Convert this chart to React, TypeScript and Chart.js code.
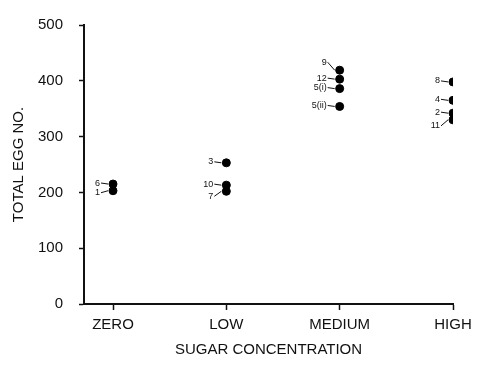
import React, { useEffect, useRef } from "react";
import { Chart, registerables } from "chart.js";

Chart.register(...registerables);

// Sugar levels on the x axis (0..3)
const categories = ["ZERO", "LOW", "MEDIUM", "HIGH"];
const yTicks = [0, 100, 200, 300, 400, 500];

// Total egg number for each individual, grouped by sugar level
const zeroIds = ["6", "1"];
const zeroEggs = [215, 203];
const lowIds = ["3", "10", "7"];
const lowEggs = [253, 213, 202];
const mediumIds = ["9", "12", "5(i)", "5(ii)"];
const mediumEggs = [419, 403, 386, 354];
const highIds = ["8", "4", "2", "11"];
const highEggs = [398, 365, 342, 330];

// Vertical nudge of each identifier label relative to its dot (px)
const labelNudge: Record<string, number> = { "9": -8, "11": 6, "7": 5, "1": 2 };

const FONT = "'Liberation Sans', Arial, sans-serif";

const groups = [
  { x: 0, ids: zeroIds, eggs: zeroEggs },
  { x: 1, ids: lowIds, eggs: lowEggs },
  { x: 2, ids: mediumIds, eggs: mediumEggs },
  { x: 3, ids: highIds, eggs: highEggs },
];

const points = groups.flatMap((g) =>
  g.eggs.map((v, i) => ({ x: g.x, y: v, id: g.ids[i] }))
);

const idLabels = {
  id: "idLabels",
  afterDatasetsDraw(chart: any) {
    const { ctx } = chart;
    const xs = chart.scales.x;
    const ys = chart.scales.y;
    ctx.save();
    ctx.fillStyle = "#111";
    ctx.strokeStyle = "#111";
    ctx.lineWidth = 1;
    ctx.font = `9px ${FONT}`;
    ctx.textAlign = "right";
    ctx.textBaseline = "middle";
    points.forEach((p) => {
      const px = xs.getPixelForValue(p.x);
      const py = ys.getPixelForValue(p.y);
      const dy = labelNudge[p.id] ?? -1;
      const ty = py + dy;
      ctx.fillText(p.id, px - 13, ty);
      ctx.beginPath();
      ctx.moveTo(px - 12, ty);
      ctx.lineTo(px - 5, py);
      ctx.stroke();
    });
    ctx.restore();
  },
};

export default function App() {
  const ref = useRef<HTMLCanvasElement | null>(null);

  useEffect(() => {
    if (!ref.current) return;
    const chart = new Chart(ref.current, {
      type: "scatter",
      data: {
        datasets: [
          {
            data: points.map((p) => ({ x: p.x, y: p.y })),
            backgroundColor: "#000",
            borderColor: "#000",
            pointRadius: 4,
            pointHoverRadius: 4,
          },
        ],
      },
      options: {
        animation: false,
        responsive: false,
        maintainAspectRatio: false,
        layout: { padding: { left: 0, right: 25, top: 16, bottom: 0 } },
        plugins: {
          legend: { display: false },
          tooltip: { enabled: false },
        },
        scales: {
          x: {
            type: "linear",
            min: -0.256,
            max: 3,
            afterBuildTicks: (scale: any) => {
              scale.ticks = categories.map((_, i) => ({ value: i }));
            },
            afterFit: (scale: any) => {
              scale.height = 62;
            },
            ticks: {
              callback: (v: any) => categories[Number(v)] ?? "",
              color: "#111",
              font: { family: FONT, size: 15 },
              padding: 6,
              maxRotation: 0,
              autoSkip: false,
            },
            grid: {
              drawOnChartArea: false,
              drawTicks: true,
              tickLength: 6,
              tickColor: "#111",
              tickWidth: 1.5,
            },
            border: { color: "#111", width: 2 },
            title: {
              display: true,
              text: "SUGAR CONCENTRATION",
              color: "#111",
              font: { family: FONT, size: 15 },
              padding: { top: 4, bottom: 7 },
            },
          },
          y: {
            min: 0,
            max: 500,
            afterBuildTicks: (scale: any) => {
              scale.ticks = yTicks.map((v) => ({ value: v }));
            },
            afterFit: (scale: any) => {
              scale.width = 84;
            },
            ticks: {
              color: "#111",
              font: { family: FONT, size: 15 },
              padding: 16,
            },
            grid: {
              drawOnChartArea: false,
              drawTicks: true,
              tickLength: 5,
              tickColor: "#111",
              tickWidth: 1.5,
            },
            border: { color: "#111", width: 2 },
            title: {
              display: true,
              text: "TOTAL EGG NO.",
              color: "#111",
              font: { family: FONT, size: 15 },
              padding: { top: 10, bottom: 0 },
            },
          },
        },
      },
      plugins: [idLabels],
    });
    return () => chart.destroy();
  }, []);

  return (
    <div style={{ position: "fixed", left: 0, top: 0, width: 478, height: 366, background: "#fff" }}>
      <canvas ref={ref} width={478} height={366} style={{ width: 478, height: 366 }} />
    </div>
  );
}
